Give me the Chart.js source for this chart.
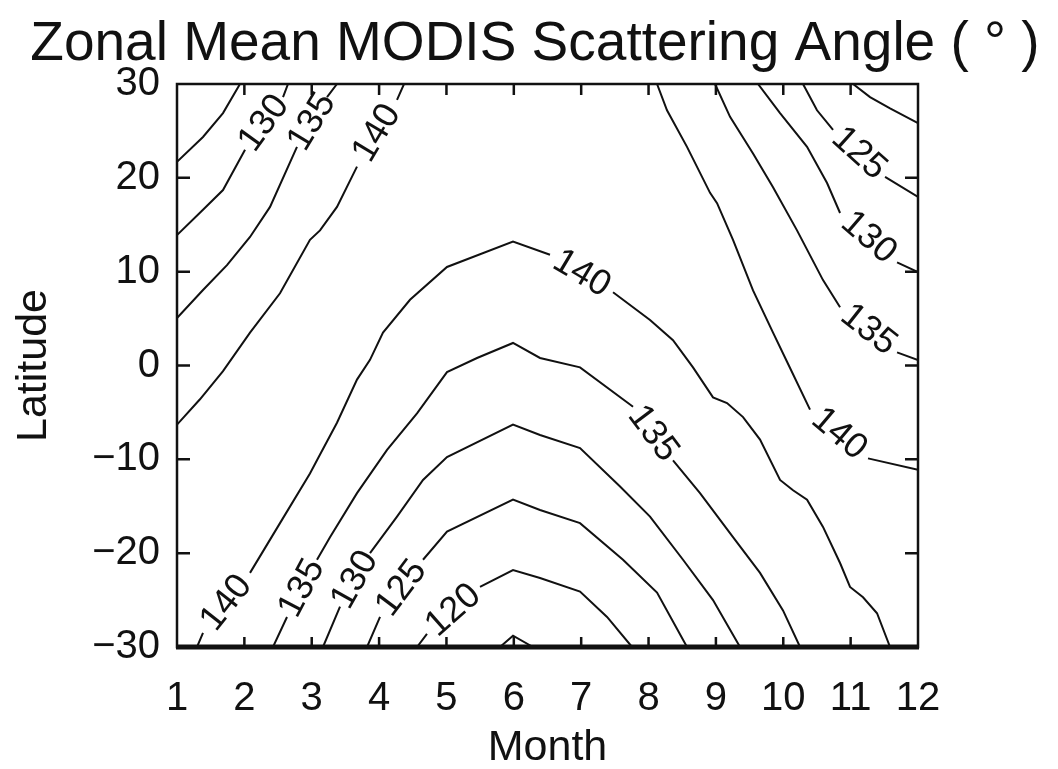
<!DOCTYPE html>
<html>
<head>
<meta charset="utf-8">
<script src="https://cdn.jsdelivr.net/npm/chart.js@4.4.1/dist/chart.umd.min.js"></script>
<style>
  html, body { margin: 0; padding: 0; background: #ffffff; }
  canvas { display: block; }
</style>
</head>
<body>
<canvas id="chart" width="1058" height="769"></canvas>
<script>
// Axis ticks
const monthTicks = [1, 2, 3, 4, 5, 6, 7, 8, 9, 10, 11, 12];
const latitudeTicks = [-30, -20, -10, 0, 10, 20, 30];

// Contour lines of zonal mean scattering angle, [month, latitude];
// a null entry marks the break where the contour value is written.
const nw125 = [[1, 21.7], [1.386, 24.35], [1.683, 26.9], [1.935, 30]];
const nw130 = [[1, 13.9], [1.386, 16.6], [1.683, 18.7], [2.01, 23.0], null,
               [2.574, 28.6], [2.648, 30]];
const nw135 = [[1, 5.06], [1.386, 8.05], [1.742, 10.7], [2.084, 13.7], [2.381, 16.9],
               [2.781, 23.3], null, [3.227, 28.6], [3.375, 30]];
const nw140 = [[1, -6.3], [1.341, -3.6], [1.683, -0.6], [2.084, 3.5], [2.529, 7.7],
               [2.974, 13.4], [3.123, 14.4], [3.375, 16.9], [3.672, 21.2], null,
               [4.266, 28.3], [4.37, 30]];

const ne120 = [[11.036, 30], [11.288, 28.6], [11.585, 27.4], [12, 25.84]];
const ne125 = [[10.293, 30], [10.501, 27.2], [10.739, 25.1], null,
               [11.511, 20.1], [12, 17.96]];
const ne130 = [[9.625, 30], [9.952, 26.9], [10.353, 23.3], [10.65, 19.45],
               [10.843, 16.25], null, [11.689, 11.0], [12, 9.96]];
const ne135 = [[8.987, 30], [9.21, 26.5], [9.551, 22.6], [9.848, 19.0], [10.204, 14.4],
               [10.59, 9.1], [10.843, 6.2], null, [11.689, 1.4], [12, 0.58]];
const ne140 = [[8.126, 30], [8.274, 27.2], [8.571, 23.3], [8.913, 18.4], [9.017, 17.3],
               [9.254, 13.4], [9.551, 8.0], [9.848, 3.5], [10.056, 0.4], [10.397, -4.7],
               null, [11.258, -9.9], [12, -11.1]];

const mid140 = [[1.297, -30], [1.386, -28.5], null, [2.084, -22.1], [2.529, -16.8],
                [2.974, -11.5], [3.078, -10.1], [3.375, -6.1], [3.672, -1.5], [3.865, 0.6],
                [4.058, 3.5], [4.459, 7.0], [5.008, 10.5], [5.988, 13.2], [6.537, 11.8],
                null, [7.473, 7.8], [8.022, 4.85], [8.363, 2.7], [8.66, -0.2], [8.957, -3.4],
                [9.165, -4.0], [9.403, -5.5], [9.655, -7.9], [9.952, -12.2], [10.145, -13.3],
                [10.353, -14.3], [10.59, -17.2], [10.843, -21.05], [10.991, -23.6],
                [11.184, -24.7], [11.392, -26.4], [11.585, -30]];
const mid135 = [[2.425, -30], [2.633, -26.8], null, [3.078, -20.7], [3.271, -18.3],
                [3.672, -13.6], [4.118, -9.0], [4.563, -5.1], [5.008, -0.7], [5.454, 0.8],
                [5.988, 2.4], [6.389, 0.8], [6.983, -0.2], [7.77, -4.4], null,
                [8.363, -10.1], [8.764, -13.6], [9.254, -18.3], [9.655, -22.1],
                [9.996, -26.1], [10.249, -30]];
const mid130 = [[3.167, -30], [3.42, -25.7], null, [3.865, -20.0], [4.266, -16.1],
                [4.652, -12.2], [5.008, -9.75], [5.988, -6.3], [6.389, -7.4], [6.983, -8.8],
                [7.577, -12.9], [8.022, -16.1], [8.512, -20.7], [8.957, -25.0], [9.358, -30]];
const mid125 = [[3.821, -30], [4.014, -26.8], null, [4.652, -20.7], [5.008, -17.7],
                [5.988, -14.3], [6.389, -15.4], [6.983, -16.8], [7.621, -20.7],
                [8.126, -24.2], [8.571, -30]];
const mid120 = [[4.563, -30], [4.711, -28.6], null, [5.498, -23.6], [5.988, -21.8],
                [6.389, -22.65], [6.983, -24.1], [7.384, -26.8], [7.755, -30]];
const mid115 = [[5.795, -30], [5.988, -28.8], [6.285, -30]];

const contours = [
  { level: 125, points: nw125 }, { level: 130, points: nw130 },
  { level: 135, points: nw135 }, { level: 140, points: nw140 },
  { level: 120, points: ne120 }, { level: 125, points: ne125 },
  { level: 130, points: ne130 }, { level: 135, points: ne135 },
  { level: 140, points: ne140 },
  { level: 140, points: mid140 }, { level: 135, points: mid135 },
  { level: 130, points: mid130 }, { level: 125, points: mid125 },
  { level: 120, points: mid120 }, { level: 115, points: mid115 }
];

const FONT = "'Liberation Sans', Arial, sans-serif";
const INK = '#111111';

const datasets = contours.map(c => {
  const data = [];
  c.points.forEach((p, i) => {
    if (p) { data.push({ x: p[0], y: p[1] }); }
    else {
      const a = c.points[i - 1], b = c.points[i + 1];
      data.push({ x: (a[0] + b[0]) / 2, y: null });
    }
  });
  return {
    label: String(c.level),
    level: c.level,
    data,
    borderColor: INK,
    borderWidth: 2,
    pointRadius: 0,
    pointHoverRadius: 0,
    tension: 0,
    spanGaps: false,
    fill: false
  };
});

// Writes each contour value into the break left in its line,
// turned to follow the line.
const contourLabels = {
  id: 'contourLabels',
  afterDatasetsDraw(chart) {
    const { ctx, scales: { x, y } } = chart;
    ctx.save();
    ctx.fillStyle = INK;
    ctx.font = "36px " + FONT;
    ctx.textAlign = 'center';
    ctx.textBaseline = 'middle';
    chart.data.datasets.forEach(ds => {
      const pts = ds.data;
      pts.forEach((p, i) => {
        if (p.y !== null) return;
        const a = pts[i - 1], b = pts[i + 1];
        const ax = x.getPixelForValue(a.x), ay = y.getPixelForValue(a.y);
        const bx = x.getPixelForValue(b.x), by = y.getPixelForValue(b.y);
        let ang = Math.atan2(by - ay, bx - ax);
        if (ang > Math.PI / 2) ang -= Math.PI;
        if (ang < -Math.PI / 2) ang += Math.PI;
        ctx.save();
        ctx.translate((ax + bx) / 2, (ay + by) / 2);
        ctx.rotate(ang);
        ctx.fillText(String(ds.level), 0, 0);
        ctx.restore();
      });
    });
    ctx.restore();
  }
};

// Box round the plot with inward tick marks on all four sides.
const plotFrame = {
  id: 'plotFrame',
  afterDraw(chart) {
    const { ctx, chartArea: a, scales: { x, y } } = chart;
    ctx.save();
    ctx.strokeStyle = INK;
    ctx.lineWidth = 2.5;
    ctx.strokeRect(a.left, a.top, a.right - a.left, a.bottom - a.top);
    ctx.lineWidth = 5;
    ctx.beginPath();
    ctx.moveTo(a.left - 1, a.bottom);
    ctx.lineTo(a.right + 1, a.bottom);
    ctx.stroke();
    ctx.lineWidth = 2.5;
    ctx.beginPath();
    x.ticks.forEach(t => {
      const px = x.getPixelForValue(t.value);
      if (px <= a.left + 1 || px >= a.right - 1) return;
      ctx.moveTo(px, a.top); ctx.lineTo(px, a.top + 11);
      ctx.moveTo(px, a.bottom); ctx.lineTo(px, a.bottom - 10);
    });
    y.ticks.forEach(t => {
      const py = y.getPixelForValue(t.value);
      if (py <= a.top + 1 || py >= a.bottom - 1) return;
      ctx.moveTo(a.left, py); ctx.lineTo(a.left + 13, py);
      ctx.moveTo(a.right, py); ctx.lineTo(a.right - 13, py);
    });
    ctx.stroke();
    ctx.restore();
  }
};

const whiteBackground = {
  id: 'whiteBackground',
  beforeDraw(chart) {
    const { ctx, width, height } = chart;
    ctx.save();
    ctx.fillStyle = '#ffffff';
    ctx.fillRect(0, 0, width, height);
    ctx.restore();
  }
};

new Chart(document.getElementById('chart'), {
  type: 'line',
  data: { datasets },
  options: {
    responsive: false,
    animation: false,
    devicePixelRatio: 1,
    events: [],
    layout: { padding: { left: 12, right: 0, top: 0, bottom: 0 } },
    plugins: {
      legend: { display: false },
      tooltip: { enabled: false },
      title: {
        display: true,
        text: 'Zonal Mean MODIS Scattering Angle ( ° )',
        color: INK,
        font: { family: FONT, size: 55, weight: 'normal', lineHeight: 1.2 },
        padding: { top: 12, bottom: 6 }
      }
    },
    scales: {
      x: {
        type: 'linear',
        min: 1, max: 12,
        afterBuildTicks(scale) { scale.ticks = monthTicks.map(v => ({ value: v })); },
        afterFit(scale) { scale.height = 122; },
        grid: { display: false, drawTicks: false },
        border: { display: false },
        ticks: {
          color: INK, padding: 28, maxRotation: 0, autoSkip: false,
          font: { family: FONT, size: 40, lineHeight: 1.2 }
        },
        title: {
          display: true, text: 'Month', color: INK,
          font: { family: FONT, size: 43, lineHeight: 1 },
          padding: { top: 0, bottom: -1 }
        }
      },
      y: {
        type: 'linear',
        min: -30, max: 30,
        afterBuildTicks(scale) { scale.ticks = latitudeTicks.map(v => ({ value: v })); },
        afterFit(scale) { scale.width = 165; },
        grid: { display: false, drawTicks: false },
        border: { display: false },
        ticks: {
          color: INK, padding: 17, autoSkip: false,
          font: { family: FONT, size: 40 },
          callback: v => (v < 0 ? '\u2212' + Math.abs(v) : String(v))
        },
        title: {
          display: true, text: 'Latitude', color: INK,
          font: { family: FONT, size: 43, lineHeight: 1 },
          padding: { top: 1, bottom: 0 }
        }
      },
      yRight: {
        type: 'linear',
        position: 'right',
        min: -30, max: 30,
        afterFit(scale) { scale.width = 140; },
        grid: { display: false, drawTicks: false },
        border: { display: false },
        ticks: { display: false }
      }
    }
  },
  plugins: [whiteBackground, contourLabels, plotFrame]
});
</script>
</body>
</html>
